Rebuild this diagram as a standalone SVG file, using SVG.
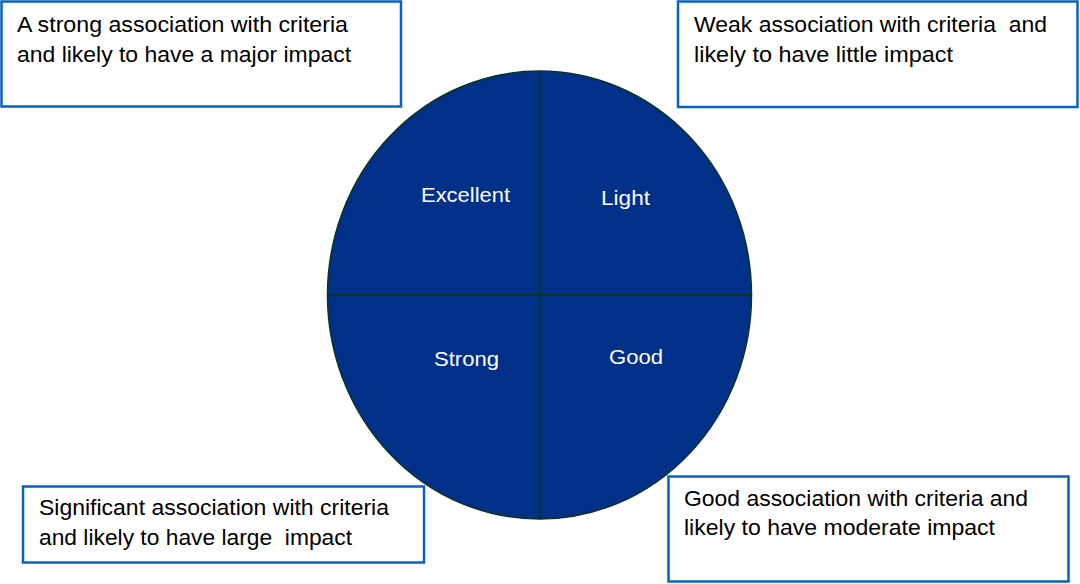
<svg xmlns="http://www.w3.org/2000/svg" width="1080" height="584" viewBox="0 0 1080 584">
<style>
.box{fill:#ffffff;stroke:#0563C1;stroke-width:2.5}
.t{font-family:"Liberation Sans",Arial,sans-serif;font-size:22px;fill:#000000}
.lbl{font-family:"Liberation Sans",Arial,sans-serif;font-size:21px;fill:#ffffff}
.div{stroke:#0B3326;stroke-width:2;fill:none}
</style>
<rect width="1080" height="584" fill="#ffffff"/>
<g id="circle">
<ellipse cx="539.5" cy="295" rx="212" ry="224" fill="#003087" stroke="#0B3326" stroke-width="1.5"/>
</g>
<g id="connectors">
<line class="div" x1="539.5" y1="71" x2="539.5" y2="519"/>
<line class="div" x1="327.5" y1="295" x2="751.5" y2="295"/>
</g>
<g id="q-excellent"><text class="lbl" x="421" y="202" textLength="89" lengthAdjust="spacingAndGlyphs">Excellent</text></g>
<g id="q-light"><text class="lbl" x="601" y="205" textLength="49" lengthAdjust="spacingAndGlyphs">Light</text></g>
<g id="q-strong"><text class="lbl" x="434" y="366" textLength="65" lengthAdjust="spacingAndGlyphs">Strong</text></g>
<g id="q-good"><text class="lbl" x="609" y="363.5" textLength="54" lengthAdjust="spacingAndGlyphs">Good</text></g>
<g id="box-tl">
<rect class="box" x="1.5" y="1.5" width="399.5" height="105"/>
<text class="t" x="17" y="31.5" textLength="331" lengthAdjust="spacingAndGlyphs">A strong association with criteria</text>
<text class="t" x="17" y="61.5" textLength="334" lengthAdjust="spacingAndGlyphs">and likely to have a major impact</text>
</g>
<g id="box-tr">
<rect class="box" x="678" y="1.5" width="399.5" height="105.5"/>
<text class="t" x="694" y="31.5" textLength="353" lengthAdjust="spacingAndGlyphs" xml:space="preserve">Weak association with criteria  and</text>
<text class="t" x="694" y="61.5" textLength="259" lengthAdjust="spacingAndGlyphs">likely to have little impact</text>
</g>
<g id="box-bl">
<rect class="box" x="23" y="486.5" width="401" height="76"/>
<text class="t" x="39" y="514.5" textLength="350" lengthAdjust="spacingAndGlyphs">Significant association with criteria</text>
<text class="t" x="39" y="544.5" textLength="313" lengthAdjust="spacingAndGlyphs" xml:space="preserve">and likely to have large  impact</text>
</g>
<g id="box-br">
<rect class="box" x="668.5" y="476.5" width="400" height="105"/>
<text class="t" x="684" y="505.5" textLength="344" lengthAdjust="spacingAndGlyphs">Good association with criteria and</text>
<text class="t" x="684" y="535" textLength="311" lengthAdjust="spacingAndGlyphs">likely to have moderate impact</text>
</g>
</svg>
